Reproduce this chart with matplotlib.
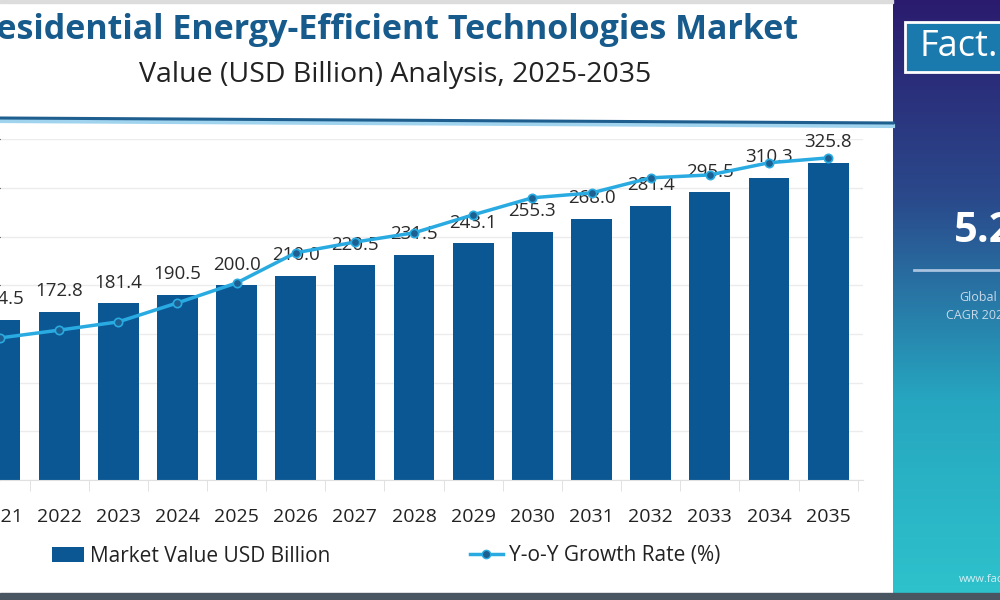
import numpy as np
import matplotlib
matplotlib.use("Agg")
import matplotlib.pyplot as plt
from matplotlib.lines import Line2D
from matplotlib.patches import Patch, Rectangle

plt.rcParams['font.family'] = ['Open Sans', 'DejaVu Sans']

# data
years = ['2021', '2022', '2023', '2024', '2025', '2026', '2027', '2028',
         '2029', '2030', '2031', '2032', '2033', '2034', '2035']
market_value = [164.5, 172.8, 181.4, 190.5, 200.0, 210.0, 220.5, 231.5,
                243.1, 255.3, 268.0, 281.4, 295.5, 310.3, 325.8]
yoy_growth = [2.92, 3.08, 3.25, 3.64, 4.05, 4.67, 4.89, 5.08,
              5.45, 5.80, 5.90, 6.21, 6.27, 6.52, 6.62]

title = "Residential Energy-Efficient Technologies Market"
subtitle = "Value (USD Billion) Analysis, 2025-2035"

bar_color = '#0b5794'
line_color = '#29abe2'

fig = plt.figure(figsize=(10, 6), dpi=100)
fig.patch.set_facecolor('white')

# main axes (left side is cropped in the reference)
ax = fig.add_axes([0.0, 0.2, 0.863, 340.6 / 600])
x = np.arange(len(years))
ax.bar(x, market_value, width=0.69, color=bar_color, zorder=2)
ax.set_xlim(0.034, 14.59)
ax.set_ylim(0, 350)
ax.set_yticks(np.arange(0, 351, 50))
ax.yaxis.grid(True, color='#ececec', lw=1)
ax.set_axisbelow(True)
ax.tick_params(axis='y', left=False, labelleft=False)
ax.set_xticks(x)
ax.set_xticklabels(years, fontsize=14, color='#222222')
ax.tick_params(axis='x', length=0, pad=20)
ax.set_xticks(x + 0.5, minor=True)
ax.tick_params(axis='x', which='minor', length=8, color='#dddddd')
for s in ['top', 'right', 'left']:
    ax.spines[s].set_visible(False)
ax.spines['bottom'].set_color('#e0e0e0')

for xi, v in zip(x, market_value):
    ax.annotate(f"{v:.1f}", (xi, v), xytext=(0, 15), textcoords='offset points',
                ha='center', va='center', fontsize=13.5, color='#2a2a2a', zorder=3)

ax2 = ax.twinx()
ax2.set_ylim(0, 7)
ax2.plot(x, yoy_growth, color=line_color, lw=2.5, marker='o', ms=6,
         mfc='#1d5f90', mec=line_color, mew=1.2, zorder=5)
ax2.axis('off')

# titles
fig.text(0.386, 1 - 30 / 600, title, ha='center', va='center', fontsize=24.5,
         fontweight='bold', color='#175a8c')
fig.text(0.395, 1 - 75 / 600, subtitle, ha='center', va='center', fontsize=20.5,
         color='#222222')

# header rule
fig.add_artist(Line2D([0, 0.893], [1 - 121 / 600, 1 - 126 / 600],
                      transform=fig.transFigure, color='#9fd3ee', lw=3))
fig.add_artist(Line2D([0, 0.893], [1 - 118 / 600, 1 - 123 / 600],
                      transform=fig.transFigure, color='#1f5f8f', lw=2.2))

# legend
handles = [Patch(facecolor=bar_color, label='Market Value USD Billion'),
           Line2D([0], [0], color=line_color, lw=2.5, marker='o', ms=6,
                  mfc='#1d5f90', mec=line_color, label='Y-o-Y Growth Rate (%)')]
fig.legend(handles=handles, loc='center', bbox_to_anchor=(0.386, 1 - 556 / 600),
           ncol=2, frameon=False, fontsize=15, columnspacing=6.7,
           handlelength=1.55, handletextpad=0.3, labelcolor='#222222')

# right side panel
pan = fig.add_axes([0.893, 0.0, 0.107, 1.0])
grad = np.linspace(0, 1, 256).reshape(-1, 1)
cmap = matplotlib.colors.LinearSegmentedColormap.from_list(
    'panel', ['#2b1b6e', '#2a4a8c', '#26a6c0', '#2ec3cc'])
pan.imshow(grad, aspect='auto', cmap=cmap, extent=[0, 1, 0, 1], origin='upper')
pan.set_xlim(0, 1)
pan.set_ylim(0, 1)
pan.axis('off')
pan.add_patch(Rectangle((0.11, 1 - 72 / 600), 1.0, 50 / 600, facecolor='#1a79ad',
                        edgecolor='white', lw=2))
pan.text(0.25, 1 - 47 / 600, 'Fact.MR', color='white', fontsize=26, va='center',
         ha='left')
pan.text(0.57, 1 - 232 / 600, '5.2%', color='white', fontsize=30,
         fontweight='bold', va='center', ha='left')
pan.plot([0.2, 1.0], [1 - 270 / 600] * 2, color='#a9c3e0', lw=2)
pan.text(0.62, 1 - 298 / 600, 'Global', color='#c8d8ea', fontsize=9, va='center')
pan.text(0.50, 1 - 316 / 600, 'CAGR 2025-2035', color='#c8d8ea', fontsize=9,
         va='center')
pan.text(0.62, 1 - 580 / 600, 'www.factmr.com', color='#d6eef4', fontsize=8,
         va='center')

# frame bits
fig.add_artist(Rectangle((0, 0), 1, 7 / 600, transform=fig.transFigure,
                         color='#4a5562', zorder=10))
fig.add_artist(Rectangle((0, 1 - 3 / 600), 0.893, 3 / 600,
                         transform=fig.transFigure, color='#dcdcdc', zorder=10))

fig.savefig('out.png', dpi=100)
